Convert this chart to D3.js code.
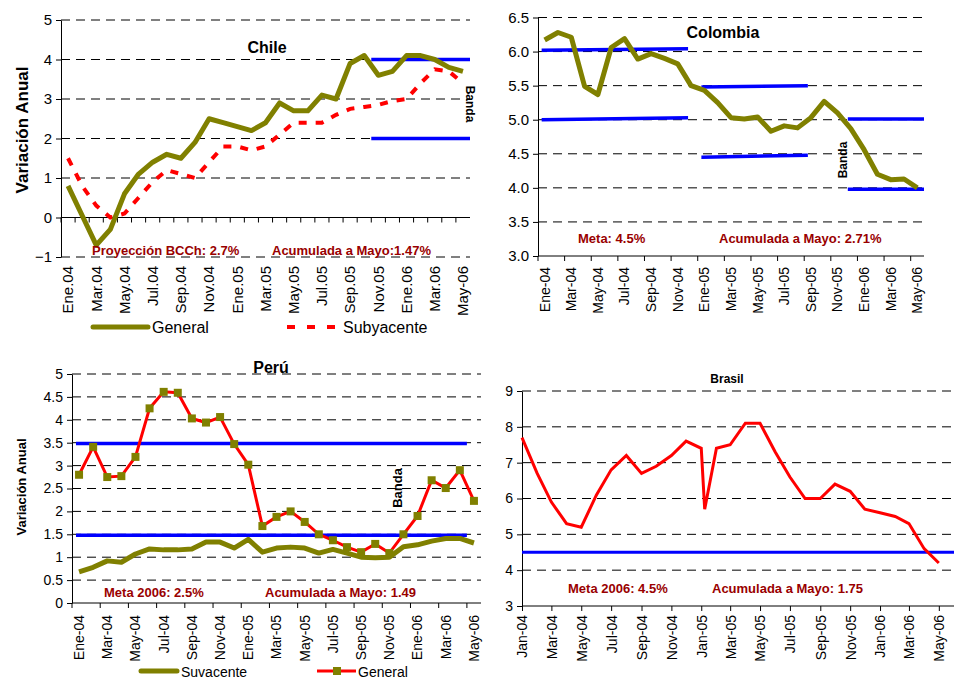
<!DOCTYPE html>
<meta charset="utf-8">
<style>
    body { margin: 0; background: #fff; }
    svg { font-family: Arial, "Liberation Sans", sans-serif; }
</style>
<body>
<svg id="chart" width="954" height="679"></svg>
<script src="https://cdn.jsdelivr.net/npm/d3@7"></script>
<script>
// month categories, Ene-04 .. May-06
var months = ["Ene-04","Feb-04","Mar-04","Abr-04","May-04","Jun-04","Jul-04","Ago-04","Sep-04","Oct-04","Nov-04","Dic-04",
              "Ene-05","Feb-05","Mar-05","Abr-05","May-05","Jun-05","Jul-05","Ago-05","Sep-05","Oct-05","Nov-05","Dic-05",
              "Ene-06","Feb-06","Mar-06","Abr-06","May-06"];

// Chile
var chileGeneral    = [0.8,0.05,-0.7,-0.3,0.6,1.1,1.4,1.6,1.5,1.9,2.5,2.4,2.3,2.2,2.4,2.9,2.7,2.7,3.1,3.0,3.9,4.1,3.6,3.7,4.1,4.1,4.0,3.8,3.7];
var chileSubyacente = [1.5,0.8,0.3,0.0,0.1,0.5,0.9,1.2,1.1,1.0,1.4,1.8,1.8,1.7,1.8,2.1,2.4,2.4,2.4,2.6,2.75,2.8,2.85,2.95,3.0,3.4,3.75,3.7,3.4];
var chileBand = [2, 4];
var chileTickLabels = ["Ene.04","Mar.04","May.04","Jul.04","Sep.04","Nov.04","Ene.05","Mar.05","May.05","Jul.05","Sep.05","Nov.05","Ene.06","Mar.06","May-06"];

// Colombia
var colGeneral = [6.17,6.28,6.21,5.49,5.37,6.06,6.19,5.89,5.97,5.9,5.82,5.5,5.43,5.25,5.03,5.01,5.04,4.83,4.91,4.88,5.03,5.27,5.1,4.87,4.56,4.2,4.12,4.13,4.0];
var colBands = [
    {from: "Ene-04", to: "Dic-04", v0: 6.02, v1: 6.04},
    {from: "Ene-04", to: "Dic-04", v0: 5.0, v1: 5.03},
    {from: "Ene-05", to: "Sep-05", v0: 5.48, v1: 5.5},
    {from: "Ene-05", to: "Sep-05", v0: 4.45, v1: 4.48},
    {from: "Dic-05", to: "May-06", v0: 5.01, v1: 5.01},
    {from: "Dic-05", to: "May-06", v0: 3.98, v1: 3.98}
];
var colTickLabels = ["Ene-04","Mar-04","May-04","Jul-04","Sep-04","Nov-04","Ene-05","Mar-05","May-05","Jul-05","Sep-05","Nov-05","Ene-06","Mar-06","May-06"];

// Perú
var peruGeneral   = [2.8,3.41,2.75,2.77,3.19,4.25,4.61,4.59,4.03,3.94,4.06,3.47,3.02,1.68,1.88,2.0,1.77,1.5,1.37,1.22,1.11,1.29,1.09,1.5,1.9,2.68,2.51,2.9,2.23];
var peruSuvacente = [0.68,0.78,0.92,0.89,1.07,1.18,1.16,1.16,1.18,1.33,1.33,1.2,1.39,1.11,1.2,1.22,1.2,1.09,1.17,1.09,1.0,0.99,1.0,1.23,1.27,1.35,1.41,1.41,1.31];
var peruBand = [1.48, 3.48];

// Brasil (dates: one extra reading just after Jan-05)
var brasilDates = ["2004-01-01","2004-02-01","2004-03-01","2004-04-01","2004-05-01","2004-06-01","2004-07-01","2004-08-01","2004-09-01","2004-10-01","2004-11-01","2004-12-01",
                   "2005-01-01","2005-01-08","2005-02-01","2005-03-01","2005-04-01","2005-05-01","2005-06-01","2005-07-01","2005-08-01","2005-09-01","2005-10-01","2005-11-01","2005-12-01",
                   "2006-01-01","2006-02-01","2006-03-01","2006-04-01","2006-05-01"];
var brasilValues = [7.7,6.7,5.9,5.3,5.2,6.1,6.8,7.2,6.7,6.9,7.2,7.6,7.4,5.7,7.4,7.5,8.1,8.1,7.3,6.6,6.0,6.0,6.4,6.2,5.7,5.6,5.5,5.3,4.6,4.2];
var brasilMeta = 4.5;
var brasilTickLabels = ["Jan-04","Mar-04","May-04","Jul-04","Sep-04","Nov-04","Jan-05","Mar-05","May-05","Jul-05","Sep-05","Nov-05","Jan-06","Mar-06","May-06"];

var OLIVE = "#808000", RED = "#ff0000", BLUE = "#0000ff", NOTE = "#990000";

var svg = d3.select("#chart");

function gridAndYAxis(g, y, o) {
    g.append("g").selectAll("line")
        .data(o.yTicks.filter(function(d) { return d !== o.yCross; }))
        .enter().append("line")
        .attr("x1", o.left).attr("x2", o.right)
        .attr("y1", function(d) { return y(d); })
        .attr("y2", function(d) { return y(d); })
        .attr("stroke", "#000")
        .attr("stroke-width", 1)
        .attr("stroke-dasharray", "9,6");

    var ya = d3.axisLeft(y).tickValues(o.yTicks).tickFormat(o.yFormat)
        .tickSize(5).tickSizeOuter(0).tickPadding(4);
    var ag = g.append("g").attr("transform", "translate(" + o.left + ",0)").call(ya);
    ag.selectAll("text").attr("font-size", o.yFont).attr("fill", "#000").attr("font-family", null);
    ag.selectAll("line, path").attr("stroke", "#000");
}

function bandXAxis(g, x, o) {
    // horizontal axis line at crossing value
    g.append("line")
        .attr("x1", o.left).attr("x2", o.right)
        .attr("y1", o.axisY).attr("y2", o.axisY)
        .attr("stroke", "#000");
    // tick marks on category boundaries
    var marks = months.filter(function(d, i) { return i % o.tickEvery === 0; });
    g.append("g").selectAll("line")
        .data(marks).enter().append("line")
        .attr("x1", function(d) { return x(d); })
        .attr("x2", function(d) { return x(d); })
        .attr("y1", o.axisY).attr("y2", o.axisY + 5)
        .attr("stroke", "#000");
    // labels on every other month
    var keys = months.filter(function(d, i) { return i % 2 === 0; });
    var xa = d3.axisBottom(x).tickValues(keys)
        .tickFormat(function(d) { return o.labels[keys.indexOf(d)]; })
        .tickSize(0).tickPadding(0);
    var lg = g.append("g").attr("transform", "translate(0," + o.labelY + ")").call(xa);
    lg.select(".domain").remove();
    lg.selectAll("text")
        .attr("font-size", o.xFont).attr("font-family", null).attr("fill", "#000")
        .attr("transform", "rotate(-90)")
        .attr("text-anchor", "end")
        .attr("x", 0).attr("y", 0).attr("dy", "0.35em");
}

function note(g, x, y, txt, size) {
    g.append("text").attr("x", x).attr("y", y)
        .attr("font-size", size).attr("font-weight", "bold").attr("fill", NOTE)
        .text(txt);
}

function vtext(g, x, y, txt, size, angle) {
    g.append("text")
        .attr("transform", "translate(" + x + "," + y + ") rotate(" + angle + ")")
        .attr("text-anchor", "middle")
        .attr("font-size", size).attr("font-weight", "bold")
        .text(txt);
}

// ---------------- Chile ----------------
(function() {
    var o = {left: 61, right: 470, top: 20, bottom: 257, yTicks: [-1,0,1,2,3,4,5], yCross: 0,
             yFormat: d3.format("d"), yFont: 15};
    var g = svg.append("g");
    var x = d3.scaleBand().domain(months).range([o.left, o.right]);
    var y = d3.scaleLinear().domain([-1, 5]).range([o.bottom, o.top]);
    var cx = function(d, i) { return x(months[i]) + x.bandwidth() / 2; };

    gridAndYAxis(g, y, o);
    bandXAxis(g, x, {left: o.left, right: o.right, axisY: y(0), tickEvery: 1, labelY: 266,
                     labels: chileTickLabels, xFont: 15});

    g.append("g").selectAll("line").data(chileBand).enter().append("line")
        .attr("x1", x("Nov-05")).attr("x2", o.right)
        .attr("y1", function(d) { return y(d); }).attr("y2", function(d) { return y(d); })
        .attr("stroke", BLUE).attr("stroke-width", 3.5);

    g.append("path").datum(chileSubyacente)
        .attr("d", d3.line().x(cx).y(function(d) { return y(d); }))
        .attr("fill", "none").attr("stroke", RED).attr("stroke-width", 4)
        .attr("stroke-dasharray", "8,9");
    g.append("path").datum(chileGeneral)
        .attr("d", d3.line().x(cx).y(function(d) { return y(d); }))
        .attr("fill", "none").attr("stroke", OLIVE).attr("stroke-width", 5)
        .attr("stroke-linejoin", "round");

    g.append("text").attr("x", 267).attr("y", 53).attr("text-anchor", "middle")
        .attr("font-size", 16).attr("font-weight", "bold").text("Chile");
    vtext(g, 466, 104, "Banda", 12, 90);
    note(g, 92, 255, "Proyección BCCh: 2.7%", 13);
    note(g, 272, 255, "Acumulada a Mayo:1.47%", 13);
    vtext(g, 28, 130, "Variación Anual", 17, -90);

    // legend
    g.append("line").attr("x1", 93).attr("x2", 148).attr("y1", 327).attr("y2", 327)
        .attr("stroke", OLIVE).attr("stroke-width", 5).attr("stroke-linecap", "round");
    g.append("text").attr("x", 152).attr("y", 333).attr("font-size", 16).text("General");
    g.append("line").attr("x1", 287).attr("x2", 336).attr("y1", 327).attr("y2", 327)
        .attr("stroke", RED).attr("stroke-width", 4).attr("stroke-dasharray", "8,12");
    g.append("text").attr("x", 343).attr("y", 333).attr("font-size", 16).text("Subyacente");
})();

// ---------------- Colombia ----------------
(function() {
    var o = {left: 538, right: 924, top: 17.5, bottom: 256, yTicks: [3,3.5,4,4.5,5,5.5,6,6.5], yCross: 3,
             yFormat: d3.format(".1f"), yFont: 15};
    var g = svg.append("g");
    var x = d3.scaleBand().domain(months).range([o.left, o.right]);
    var y = d3.scaleLinear().domain([3, 6.5]).range([o.bottom, o.top]);
    var mid = function(m) { return x(m) + x.bandwidth() / 2; };

    gridAndYAxis(g, y, o);
    bandXAxis(g, x, {left: o.left, right: o.right, axisY: o.bottom, tickEvery: 2, labelY: 267,
                     labels: colTickLabels, xFont: 14});

    g.append("g").selectAll("line").data(colBands).enter().append("line")
        .attr("x1", function(d) { return mid(d.from) - 3; })
        .attr("x2", function(d) { return d.to === "May-06" ? o.right : mid(d.to) - 3; })
        .attr("y1", function(d) { return y(d.v0); }).attr("y2", function(d) { return y(d.v1); })
        .attr("stroke", BLUE).attr("stroke-width", 3.5);

    g.append("path").datum(colGeneral)
        .attr("d", d3.line().x(function(d, i) { return mid(months[i]); }).y(function(d) { return y(d); }))
        .attr("fill", "none").attr("stroke", OLIVE).attr("stroke-width", 5)
        .attr("stroke-linejoin", "round");

    g.append("text").attr("x", 723).attr("y", 38).attr("text-anchor", "middle")
        .attr("font-size", 16).attr("font-weight", "bold").text("Colombia");
    vtext(g, 847, 160, "Banda", 12, -90);
    note(g, 578, 243, "Meta: 4.5%", 13);
    note(g, 719, 243, "Acumulada a Mayo: 2.71%", 13);
})();

// ---------------- Perú ----------------
(function() {
    var o = {left: 72, right: 481, top: 374, bottom: 603, yTicks: [0,0.5,1,1.5,2,2.5,3,3.5,4,4.5,5], yCross: 0,
             yFormat: function(d) { return String(d); }, yFont: 14};
    var g = svg.append("g");
    var x = d3.scaleBand().domain(months).range([o.left, o.right]);
    var y = d3.scaleLinear().domain([0, 5]).range([o.bottom, o.top]);
    var cx = function(d, i) { return x(months[i]) + x.bandwidth() / 2; };

    gridAndYAxis(g, y, o);
    bandXAxis(g, x, {left: o.left, right: o.right, axisY: o.bottom, tickEvery: 2, labelY: 615,
                     labels: colTickLabels, xFont: 14});

    g.append("g").selectAll("line").data(peruBand).enter().append("line")
        .attr("x1", x("Ene-04") + 4).attr("x2", x("May-06"))
        .attr("y1", function(d) { return y(d); }).attr("y2", function(d) { return y(d); })
        .attr("stroke", BLUE).attr("stroke-width", 3.5);

    g.append("path").datum(peruSuvacente)
        .attr("d", d3.line().x(cx).y(function(d) { return y(d); }))
        .attr("fill", "none").attr("stroke", OLIVE).attr("stroke-width", 5)
        .attr("stroke-linejoin", "round");
    g.append("path").datum(peruGeneral)
        .attr("d", d3.line().x(cx).y(function(d) { return y(d); }))
        .attr("fill", "none").attr("stroke", RED).attr("stroke-width", 3);
    g.append("g").selectAll("rect").data(peruGeneral).enter().append("rect")
        .attr("x", function(d, i) { return cx(d, i) - 4; })
        .attr("y", function(d) { return y(d) - 4; })
        .attr("width", 8).attr("height", 8).attr("fill", OLIVE);

    g.append("text").attr("x", 271).attr("y", 373).attr("text-anchor", "middle")
        .attr("font-size", 16).attr("font-weight", "bold").text("Perú");
    vtext(g, 402, 488, "Banda", 13, -90);
    note(g, 104, 597, "Meta 2006: 2.5%", 13);
    note(g, 265, 597, "Acumulada a Mayo: 1.49", 13);
    vtext(g, 26, 487, "Variación Anual", 13, -90);

    g.append("line").attr("x1", 141).attr("x2", 177).attr("y1", 671).attr("y2", 671)
        .attr("stroke", OLIVE).attr("stroke-width", 5).attr("stroke-linecap", "round");
    g.append("text").attr("x", 181).attr("y", 677).attr("font-size", 14).text("Suvacente");
    g.append("line").attr("x1", 317).attr("x2", 356).attr("y1", 671).attr("y2", 671)
        .attr("stroke", RED).attr("stroke-width", 3);
    g.append("rect").attr("x", 333).attr("y", 667).attr("width", 8).attr("height", 8).attr("fill", OLIVE);
    g.append("text").attr("x", 358).attr("y", 677).attr("font-size", 14).text("General");
})();

// ---------------- Brasil ----------------
(function() {
    var o = {left: 522, right: 954, top: 391, bottom: 606, yTicks: [3,4,5,6,7,8,9], yCross: 3,
             yFormat: d3.format("d"), yFont: 14};
    var g = svg.append("g");
    var parse = d3.timeParse("%Y-%m-%d");
    var dates = brasilDates.map(parse);
    var x = d3.scaleTime().domain([parse("2004-01-01"), parse("2006-06-01")]).range([o.left, o.right]);
    var y = d3.scaleLinear().domain([3, 9]).range([o.bottom, o.top]);

    gridAndYAxis(g, y, o);
    g.append("line").attr("x1", o.left).attr("x2", o.right).attr("y1", o.bottom).attr("y2", o.bottom)
        .attr("stroke", "#000");

    var tickDates = d3.timeMonth.every(2).range(parse("2004-01-01"), parse("2006-06-01"));
    var xa = d3.axisBottom(x).tickValues(tickDates)
        .tickFormat(function(d, i) { return brasilTickLabels[i]; })
        .tickSize(5).tickSizeOuter(0).tickPadding(4);
    var ag = g.append("g").attr("transform", "translate(0," + o.bottom + ")").call(xa);
    ag.select(".domain").remove();
    ag.selectAll("line").attr("stroke", "#000");
    ag.selectAll("text")
        .attr("font-size", 14).attr("font-family", null).attr("fill", "#000")
        .attr("transform", "rotate(-90)")
        .attr("text-anchor", "end")
        .attr("x", -9).attr("y", 0).attr("dy", "0.35em");

    g.append("line").attr("x1", o.left).attr("x2", o.right)
        .attr("y1", y(brasilMeta)).attr("y2", y(brasilMeta))
        .attr("stroke", BLUE).attr("stroke-width", 3);

    g.append("path").datum(brasilValues)
        .attr("d", d3.line().x(function(d, i) { return x(dates[i]); }).y(function(d) { return y(d); }))
        .attr("fill", "none").attr("stroke", RED).attr("stroke-width", 3);

    g.append("text").attr("x", 727).attr("y", 383).attr("text-anchor", "middle")
        .attr("font-size", 12).attr("font-weight", "bold").text("Brasil");
    note(g, 568, 593, "Meta 2006: 4.5%", 13);
    note(g, 712, 593, "Acumulada a Mayo: 1.75", 13);
})();
</script>
</body>
